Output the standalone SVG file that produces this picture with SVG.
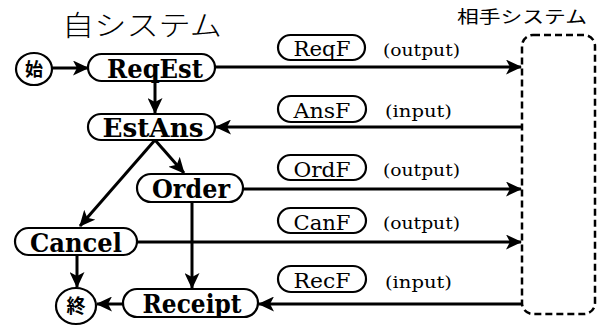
<svg xmlns="http://www.w3.org/2000/svg" width="599" height="326" viewBox="0 0 599 326">
<style>
.bg{fill:#fff}
.node{fill:#fff;stroke:#000;stroke-width:2.2}
.nt{font-family:"DejaVu Serif","Liberation Serif",serif;font-weight:bold;font-size:26px;fill:#000;text-anchor:middle}
.lt{font-family:"DejaVu Serif","Liberation Serif",serif;font-size:21px;fill:#000;text-anchor:middle}
.io{font-family:"DejaVu Serif","Liberation Serif",serif;font-size:17px;fill:#000}
.cj{font-family:"Noto Sans CJK JP",sans-serif;fill:#000}
.ln{stroke:#000;stroke-width:3;fill:none}
.dash{fill:none;stroke:#000;stroke-width:2.5;stroke-dasharray:7 4}
</style>
<defs>
<marker id="ah" markerUnits="userSpaceOnUse" markerWidth="17" markerHeight="15" refX="15" refY="7.5" orient="auto">
<path d="M0,0 L16,7.5 L0,15 L4,7.5 z" fill="#000"/>
</marker>
</defs>
<rect class="bg" x="0" y="0" width="599" height="326"/>
<text class="cj" x="62" y="36" font-size="28" font-weight="300" textLength="160" lengthAdjust="spacingAndGlyphs">自システム</text>
<text class="cj" x="457" y="23" font-size="17" textLength="130" lengthAdjust="spacingAndGlyphs">相手システム</text>
<g id="partner">
<rect class="dash" x="522" y="35" width="73" height="279" rx="11"/>
</g>
<g id="connectors">
<line class="ln" x1="52" y1="68" x2="88" y2="68" marker-end="url(#ah)"/>
<line class="ln" x1="155" y1="82" x2="155" y2="113" marker-end="url(#ah)"/>
<line class="ln" x1="215" y1="67" x2="521" y2="67" marker-end="url(#ah)"/>
<line class="ln" x1="522" y1="127" x2="216" y2="127" marker-end="url(#ah)"/>
<line class="ln" x1="155" y1="140" x2="184" y2="173" marker-end="url(#ah)"/>
<line class="ln" x1="155" y1="140" x2="80" y2="226" marker-end="url(#ah)"/>
<line class="ln" x1="243" y1="189" x2="521" y2="189" marker-end="url(#ah)"/>
<line class="ln" x1="137" y1="242" x2="521" y2="242" marker-end="url(#ah)"/>
<line class="ln" x1="192" y1="202" x2="192" y2="288" marker-end="url(#ah)"/>
<line class="ln" x1="77" y1="255" x2="77" y2="287" marker-end="url(#ah)"/>
<line class="ln" x1="123" y1="304" x2="97" y2="304" marker-end="url(#ah)"/>
<line class="ln" x1="522" y1="304" x2="259" y2="304" marker-end="url(#ah)"/>
</g>
<g id="start">
<ellipse class="node" cx="34" cy="69" rx="18" ry="16"/>
<text class="cj" x="34" y="76" font-size="18" font-weight="bold" text-anchor="middle">始</text>
</g>
<g id="end">
<ellipse class="node" cx="76" cy="306" rx="20" ry="18"/>
<text class="cj" x="76" y="313" font-size="19" font-weight="bold" text-anchor="middle">終</text>
</g>
<g id="ReqEst">
<rect class="node" x="88" y="54" width="127" height="27" rx="13.5"/>
<text class="nt" x="155" y="78" textLength="96" lengthAdjust="spacingAndGlyphs">ReqEst</text>
</g>
<g id="EstAns">
<rect class="node" x="88" y="114" width="127" height="26" rx="13"/>
<text class="nt" x="153" y="137" textLength="101" lengthAdjust="spacingAndGlyphs">EstAns</text>
</g>
<g id="Order">
<rect class="node" x="137" y="174" width="106" height="28" rx="14"/>
<text class="nt" x="191" y="198" textLength="78" lengthAdjust="spacingAndGlyphs">Order</text>
</g>
<g id="Cancel">
<rect class="node" x="15" y="228" width="122" height="27" rx="13.5"/>
<text class="nt" x="76" y="252" textLength="92" lengthAdjust="spacingAndGlyphs">Cancel</text>
</g>
<g id="Receipt">
<rect class="node" x="123" y="289" width="135" height="28" rx="14"/>
<text class="nt" x="192" y="313" textLength="99" lengthAdjust="spacingAndGlyphs">Receipt</text>
</g>
<g id="ReqF">
<rect class="node" x="278" y="35" width="87" height="25" rx="12.5"/>
<text class="lt" x="322" y="56" textLength="57" lengthAdjust="spacingAndGlyphs">ReqF</text>
<text class="io" x="383" y="56" textLength="77" lengthAdjust="spacingAndGlyphs">(output)</text>
</g>
<g id="AnsF">
<rect class="node" x="278" y="96" width="88" height="26" rx="13"/>
<text class="lt" x="322" y="118" textLength="57" lengthAdjust="spacingAndGlyphs">AnsF</text>
<text class="io" x="385" y="117" textLength="67" lengthAdjust="spacingAndGlyphs">(input)</text>
</g>
<g id="OrdF">
<rect class="node" x="278" y="155" width="88" height="25" rx="12.5"/>
<text class="lt" x="322" y="177" textLength="57" lengthAdjust="spacingAndGlyphs">OrdF</text>
<text class="io" x="383" y="176" textLength="77" lengthAdjust="spacingAndGlyphs">(output)</text>
</g>
<g id="CanF">
<rect class="node" x="278" y="208" width="88" height="25" rx="12.5"/>
<text class="lt" x="322" y="230" textLength="57" lengthAdjust="spacingAndGlyphs">CanF</text>
<text class="io" x="383" y="229" textLength="77" lengthAdjust="spacingAndGlyphs">(output)</text>
</g>
<g id="RecF">
<rect class="node" x="278" y="266" width="88" height="26" rx="13"/>
<text class="lt" x="322" y="288" textLength="57" lengthAdjust="spacingAndGlyphs">RecF</text>
<text class="io" x="385" y="288" textLength="67" lengthAdjust="spacingAndGlyphs">(input)</text>
</g>
</svg>
